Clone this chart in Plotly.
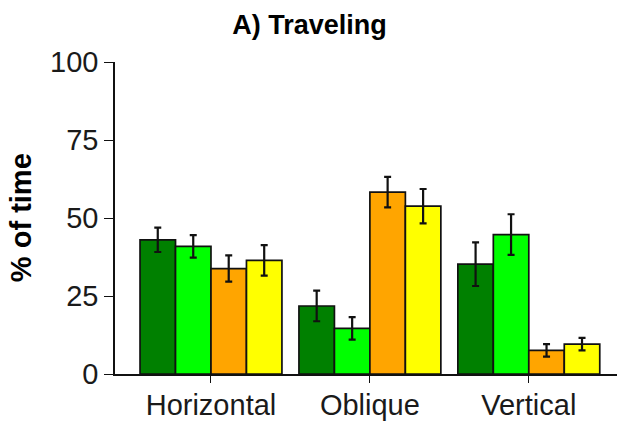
import plotly.graph_objects as go

categories = ["Horizontal", "Oblique", "Vertical"]
series_names = ["Group 1", "Group 2", "Group 3", "Group 4"]
series_colors = ["#008000", "#00FF00", "#FFA500", "#FFFF00"]
means = [
    [43.0, 21.8, 35.2],
    [40.9, 14.6, 44.7],
    [33.8, 58.3, 7.6],
    [36.4, 53.8, 9.6],
]
errors = [
    [3.9, 4.9, 7.0],
    [3.6, 3.6, 6.5],
    [4.2, 4.9, 2.0],
    [4.9, 5.5, 2.0],
]
y_ticks = [0, 25, 50, 75, 100]

font_family = "Liberation Sans, Arial, sans-serif"

fig = go.Figure()
for name, color, vals, errs in zip(series_names, series_colors, means, errors):
    fig.add_trace(go.Bar(
        x=categories,
        y=vals,
        name=name,
        marker=dict(color=color, line=dict(color="#111111", width=1.7)),
        error_y=dict(type="data", array=errs, visible=True,
                     color="#111111", thickness=2.2, width=3.5),
    ))

fig.update_layout(
    width=619, height=428,
    margin=dict(l=115, r=2, t=62, b=54),
    paper_bgcolor="white", plot_bgcolor="white",
    barmode="group", bargap=0.107, bargroupgap=0,
    showlegend=False,
    font=dict(family=font_family, color="#1a1a1a"),
    title=dict(text="<b>A) Traveling</b>", x=0.5, xref="container",
               y=0.965, yref="container", yanchor="top",
               font=dict(size=27, color="#000000")),
)

fig.update_xaxes(
    range=[-0.604, 2.555],
    showline=True, linecolor="#111111", linewidth=1.6,
    ticks="outside", ticklen=7, tickwidth=1.4, tickcolor="#111111",
    tickfont=dict(size=29, color="#1a1a1a"),
    ticklabelstandoff=-3,
    showgrid=False, zeroline=False,
)
fig.update_yaxes(
    range=[0, 100],
    tickvals=y_ticks,
    showline=True, linecolor="#111111", linewidth=1.6,
    ticks="outside", ticklen=9, tickwidth=1.4, tickcolor="#111111",
    tickfont=dict(size=29, color="#1a1a1a"),
    showgrid=False, zeroline=False,
)

fig.add_annotation(
    text="<b>% of time</b>", textangle=-90,
    xref="paper", yref="paper", x=-0.187, y=0.5,
    xanchor="center", yanchor="middle", showarrow=False,
    font=dict(size=29, color="#000000"),
)

fig.write_html("out.html")
